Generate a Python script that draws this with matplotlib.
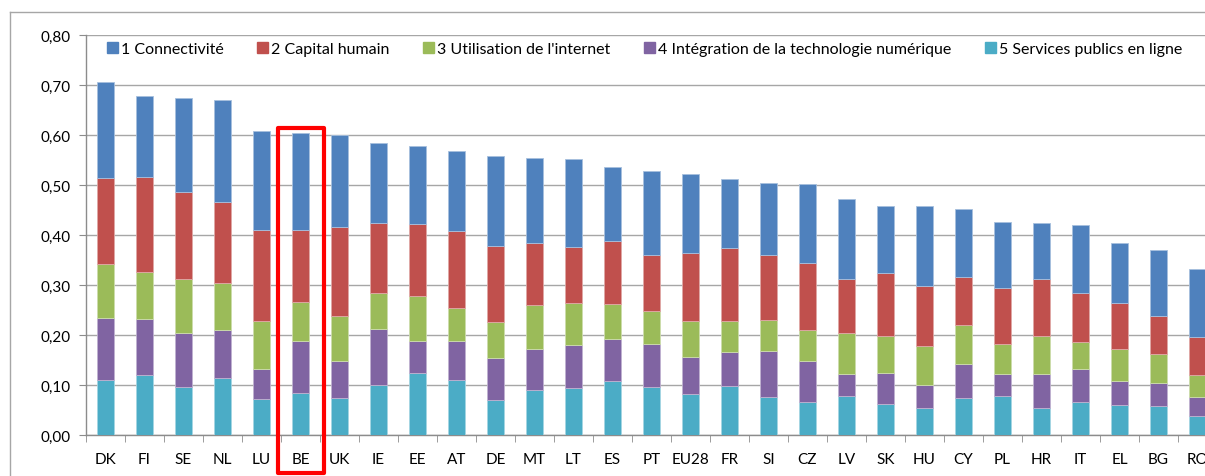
import matplotlib
matplotlib.use("Agg")
import matplotlib.pyplot as plt
import matplotlib.patches as mpatches
import numpy as np

plt.rcParams['font.family'] = ['Lato', 'DejaVu Sans']

countries = ["DK", "FI", "SE", "NL", "LU", "BE", "UK", "IE", "EE", "AT", "DE", "MT", "LT", "ES",
             "PT", "EU28", "FR", "SI", "CZ", "LV", "SK", "HU", "CY", "PL", "HR", "IT", "EL", "BG", "RO"]

s5_services = [0.111, 0.121, 0.097, 0.115, 0.073, 0.085, 0.074, 0.101, 0.125, 0.110, 0.070, 0.091, 0.094, 0.109,
               0.097, 0.082, 0.098, 0.077, 0.066, 0.078, 0.063, 0.054, 0.075, 0.079, 0.054, 0.067, 0.061, 0.059, 0.039]
s4_integration = [0.124, 0.112, 0.108, 0.096, 0.060, 0.104, 0.075, 0.112, 0.064, 0.079, 0.085, 0.082, 0.087, 0.083,
                  0.086, 0.075, 0.069, 0.092, 0.082, 0.044, 0.061, 0.046, 0.068, 0.043, 0.069, 0.066, 0.048, 0.046, 0.038]
s3_internet = [0.108, 0.093, 0.108, 0.093, 0.095, 0.078, 0.089, 0.071, 0.090, 0.065, 0.071, 0.088, 0.084, 0.071,
               0.066, 0.072, 0.061, 0.062, 0.063, 0.082, 0.074, 0.078, 0.077, 0.061, 0.075, 0.054, 0.064, 0.058, 0.043]
s2_capital = [0.172, 0.191, 0.174, 0.163, 0.183, 0.144, 0.179, 0.141, 0.144, 0.155, 0.153, 0.124, 0.112, 0.126,
              0.112, 0.136, 0.147, 0.130, 0.133, 0.109, 0.126, 0.121, 0.097, 0.112, 0.115, 0.098, 0.092, 0.076, 0.077]
s1_connect = [0.192, 0.162, 0.188, 0.204, 0.198, 0.194, 0.184, 0.160, 0.156, 0.160, 0.179, 0.169, 0.176, 0.148,
              0.168, 0.158, 0.137, 0.144, 0.157, 0.160, 0.135, 0.159, 0.136, 0.131, 0.112, 0.135, 0.120, 0.132, 0.136]

series_labels = ["1 Connectivité", "2 Capital humain", "3 Utilisation de l'internet",
                 "4 Intégration de la technologie numérique", "5 Services publics en ligne"]
yticks = [0.0, 0.1, 0.2, 0.3, 0.4, 0.5, 0.6, 0.7, 0.8]
ytick_labels = ["0,00", "0,10", "0,20", "0,30", "0,40", "0,50", "0,60", "0,70", "0,80"]
highlight = "BE"

colors = {
    "1": "#4F81BD",
    "2": "#C0504D",
    "3": "#9BBB59",
    "4": "#8064A2",
    "5": "#4BACC6",
}
edges = {
    "1": "#A7C0DE",
    "2": "#E0A8A6",
    "3": "#CDDDAC",
    "4": "#BFB1D0",
    "5": "#A5D5E2",
}

W, H = 1205, 477
fig = plt.figure(figsize=(W / 100, H / 100), dpi=100)

# axes placement in pixels
ax_left, ax_right, ax_bottom, ax_top = 86, 1217, 436, 36
ax = fig.add_axes([ax_left / W, (H - ax_bottom) / H, (ax_right - ax_left) / W, (ax_bottom - ax_top) / H])

x = np.arange(len(countries))
bw = 0.42
stack = [("5", s5_services, series_labels[4]),
         ("4", s4_integration, series_labels[3]),
         ("3", s3_internet, series_labels[2]),
         ("2", s2_capital, series_labels[1]),
         ("1", s1_connect, series_labels[0])]
bottom = np.zeros(len(countries))
for key, vals, lab in stack:
    v = np.array(vals)
    ax.bar(x, v, bw, bottom=bottom, color=colors[key], edgecolor=edges[key], linewidth=0.6,
           label=lab, zorder=3)
    bottom = bottom + v

ax.set_xlim(-0.5, len(countries) - 0.5)
ax.set_ylim(0, 0.8)
ax.set_yticks(yticks)
ax.set_yticklabels(ytick_labels)
ax.set_xticks(x)
ax.set_xticklabels(countries)
ax.set_xticks(np.arange(len(countries) + 1) - 0.5, minor=True)

ax.grid(axis='y', color='#A6A6A6', linewidth=1.0, zorder=0)
for s in ['top', 'right']:
    ax.spines[s].set_visible(False)
for s in ['left', 'bottom']:
    ax.spines[s].set_color('#8C8C8C')
    ax.spines[s].set_linewidth(1.0)

ax.tick_params(axis='y', which='major', length=5, color='#8C8C8C', labelsize=11, pad=6,
               labelcolor='#000000')
ax.tick_params(axis='x', which='major', length=0, labelsize=11, pad=12, labelcolor='#000000')
ax.tick_params(axis='x', which='minor', length=5, color='#8C8C8C', direction='out')

leg_handles = [mpatches.Patch(color=colors[k]) for k in ["1", "2", "3", "4", "5"]]
ax.legend(leg_handles, series_labels, ncol=5, frameon=False, loc='center left',
          bbox_to_anchor=((107 - ax_left) / (ax_right - ax_left), (ax_bottom - 50) / (ax_bottom - ax_top)),
          fontsize=11.5, handlelength=0.66, handleheight=0.66, handletextpad=0.22,
          columnspacing=2.1, borderpad=0, borderaxespad=0)

# outer chart border (top and left visible)
fig.add_artist(plt.Line2D([9.5 / W, 9.5 / W], [0, (H - 13) / H], transform=fig.transFigure,
                          color='#A6A6A6', linewidth=1.0))
fig.add_artist(plt.Line2D([9.5 / W, 1], [(H - 13) / H, (H - 13) / H], transform=fig.transFigure,
                          color='#A6A6A6', linewidth=1.0))

# red highlight box around BE
i = countries.index(highlight)
cat_px = (ax_right - ax_left) / len(countries)
cx = ax_left + (i + 0.5) * cat_px
bx0, bx1 = cx - 23, cx + 23
by_top, by_bot = 129, 474
rect = mpatches.Rectangle((bx0 / W, (H - by_bot) / H), (bx1 - bx0) / W, (by_bot - by_top) / H,
                          transform=fig.transFigure, fill=False, edgecolor='#FF0000', linewidth=3.0,
                          joinstyle='round', zorder=10)
fig.add_artist(rect)

fig.savefig("out.png", dpi=100)
